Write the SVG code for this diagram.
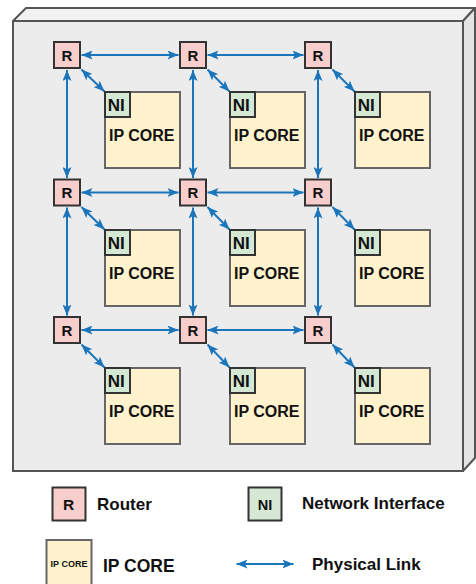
<svg xmlns="http://www.w3.org/2000/svg" width="476" height="584" viewBox="0 0 476 584">
<style>
text{font-family:"Liberation Sans",Arial,sans-serif;font-weight:bold;fill:#111}
.r{fill:#f8cecc;stroke:#333;stroke-width:2}
.ni{fill:#d5e8d4;stroke:#333;stroke-width:2}
.core{fill:#fff2cc;stroke:#666;stroke-width:2}
.lk{stroke:#1b75bb;stroke-width:2;fill:none;marker-start:url(#ah);marker-end:url(#ah)}
.rt{font-size:15px;text-anchor:middle}
.nit{font-size:17px}
.ct{font-size:16px}
.lg{font-size:17px}
</style>
<defs>
<marker id="ah" viewBox="0 0 11 9" markerWidth="11" markerHeight="9" refX="11" refY="4.5" markerUnits="userSpaceOnUse" orient="auto-start-reverse">
<path d="M0,0 L11,4.5 L0,9 L2.5,4.5 z" fill="#1b75bb"/>
</marker>
</defs>
<rect width="476" height="584" fill="#fff"/>
<g id="chip">
<polygon points="13,21 26,8 475,8 463,21" fill="#f2f2f2" stroke="#555" stroke-width="2" stroke-linejoin="round"/>
<polygon points="463,21 475,8 475,458 463,471" fill="#e4e4e4" stroke="#555" stroke-width="2" stroke-linejoin="round"/>
<rect x="13" y="21" width="450" height="450" fill="#ececec" stroke="#555" stroke-width="2"/>
</g>
<g id="links">
<line class="lk" x1="81.5" y1="55" x2="178.5" y2="55"/>
<line class="lk" x1="207.5" y1="55" x2="303.5" y2="55"/>
<line class="lk" x1="81.5" y1="192.5" x2="178.5" y2="192.5"/>
<line class="lk" x1="207.5" y1="192.5" x2="303.5" y2="192.5"/>
<line class="lk" x1="81.5" y1="330" x2="178.5" y2="330"/>
<line class="lk" x1="207.5" y1="330" x2="303.5" y2="330"/>
<line class="lk" x1="67" y1="70" x2="67" y2="178"/>
<line class="lk" x1="193" y1="70" x2="193" y2="178"/>
<line class="lk" x1="318" y1="70" x2="318" y2="178"/>
<line class="lk" x1="67" y1="207.5" x2="67" y2="315.5"/>
<line class="lk" x1="193" y1="207.5" x2="193" y2="315.5"/>
<line class="lk" x1="318" y1="207.5" x2="318" y2="315.5"/>
<line class="lk" x1="81.5" y1="69.5" x2="104.5" y2="91.5"/>
<line class="lk" x1="207.5" y1="69.5" x2="229.5" y2="91.5"/>
<line class="lk" x1="332.5" y1="69.5" x2="354.5" y2="91.5"/>
<line class="lk" x1="81.5" y1="207" x2="104.5" y2="229.5"/>
<line class="lk" x1="207.5" y1="207" x2="229.5" y2="229.5"/>
<line class="lk" x1="332.5" y1="207" x2="354.5" y2="229.5"/>
<line class="lk" x1="81.5" y1="344.5" x2="104.5" y2="367.5"/>
<line class="lk" x1="207.5" y1="344.5" x2="229.5" y2="367.5"/>
<line class="lk" x1="332.5" y1="344.5" x2="354.5" y2="367.5"/>
</g>
<g id="r11"><rect class="r" x="54" y="42" width="26" height="26"/><text class="rt" x="67" y="60.5">R</text></g>
<g id="r12"><rect class="r" x="180" y="42" width="26" height="26"/><text class="rt" x="193" y="60.5">R</text></g>
<g id="r13"><rect class="r" x="305" y="42" width="26" height="26"/><text class="rt" x="318" y="60.5">R</text></g>
<g id="r21"><rect class="r" x="54" y="179.5" width="26" height="26"/><text class="rt" x="67" y="198">R</text></g>
<g id="r22"><rect class="r" x="180" y="179.5" width="26" height="26"/><text class="rt" x="193" y="198">R</text></g>
<g id="r23"><rect class="r" x="305" y="179.5" width="26" height="26"/><text class="rt" x="318" y="198">R</text></g>
<g id="r31"><rect class="r" x="54" y="317" width="26" height="26"/><text class="rt" x="67" y="335.5">R</text></g>
<g id="r32"><rect class="r" x="180" y="317" width="26" height="26"/><text class="rt" x="193" y="335.5">R</text></g>
<g id="r33"><rect class="r" x="305" y="317" width="26" height="26"/><text class="rt" x="318" y="335.5">R</text></g>
<g id="c11"><rect class="core" x="105" y="92" width="75" height="76"/><rect class="ni" x="105" y="92" width="25" height="25"/><text class="nit" x="107.8" y="110.5">NI</text><text class="ct" x="109" y="141">IP CORE</text></g>
<g id="c12"><rect class="core" x="230" y="92" width="75" height="76"/><rect class="ni" x="230" y="92" width="25" height="25"/><text class="nit" x="232.8" y="110.5">NI</text><text class="ct" x="234" y="141">IP CORE</text></g>
<g id="c13"><rect class="core" x="355" y="92" width="75" height="76"/><rect class="ni" x="355" y="92" width="25" height="25"/><text class="nit" x="357.8" y="110.5">NI</text><text class="ct" x="359" y="141">IP CORE</text></g>
<g id="c21"><rect class="core" x="105" y="230" width="75" height="76"/><rect class="ni" x="105" y="230" width="25" height="25"/><text class="nit" x="107.8" y="248.5">NI</text><text class="ct" x="109" y="279">IP CORE</text></g>
<g id="c22"><rect class="core" x="230" y="230" width="75" height="76"/><rect class="ni" x="230" y="230" width="25" height="25"/><text class="nit" x="232.8" y="248.5">NI</text><text class="ct" x="234" y="279">IP CORE</text></g>
<g id="c23"><rect class="core" x="355" y="230" width="75" height="76"/><rect class="ni" x="355" y="230" width="25" height="25"/><text class="nit" x="357.8" y="248.5">NI</text><text class="ct" x="359" y="279">IP CORE</text></g>
<g id="c31"><rect class="core" x="105" y="368" width="75" height="76"/><rect class="ni" x="105" y="368" width="25" height="25"/><text class="nit" x="107.8" y="386.5">NI</text><text class="ct" x="109" y="417">IP CORE</text></g>
<g id="c32"><rect class="core" x="230" y="368" width="75" height="76"/><rect class="ni" x="230" y="368" width="25" height="25"/><text class="nit" x="232.8" y="386.5">NI</text><text class="ct" x="234" y="417">IP CORE</text></g>
<g id="c33"><rect class="core" x="355" y="368" width="75" height="76"/><rect class="ni" x="355" y="368" width="25" height="25"/><text class="nit" x="357.8" y="386.5">NI</text><text class="ct" x="359" y="417">IP CORE</text></g>
<g id="legend-router"><rect class="r" x="52.5" y="487.5" width="33" height="33"/><text x="68.5" y="509.5" style="font-size:15.5px;text-anchor:middle">R</text><text class="lg" x="97" y="510">Router</text></g>
<g id="legend-ni"><rect class="ni" x="248.5" y="487.5" width="33" height="33"/><text x="265" y="509.5" style="font-size:14.5px;text-anchor:middle">NI</text><text class="lg" x="302" y="509">Network Interface</text></g>
<g id="legend-core"><rect class="core" x="46.5" y="540" width="45" height="50"/><text x="69" y="567" style="font-size:9px;text-anchor:middle">IP CORE</text><text class="lg" x="103" y="571.5" style="font-size:17.5px">IP CORE</text></g>
<g id="legend-link"><line class="lk" x1="236.5" y1="564" x2="293.5" y2="564"/><text class="lg" x="312" y="570">Physical Link</text></g>
</svg>
